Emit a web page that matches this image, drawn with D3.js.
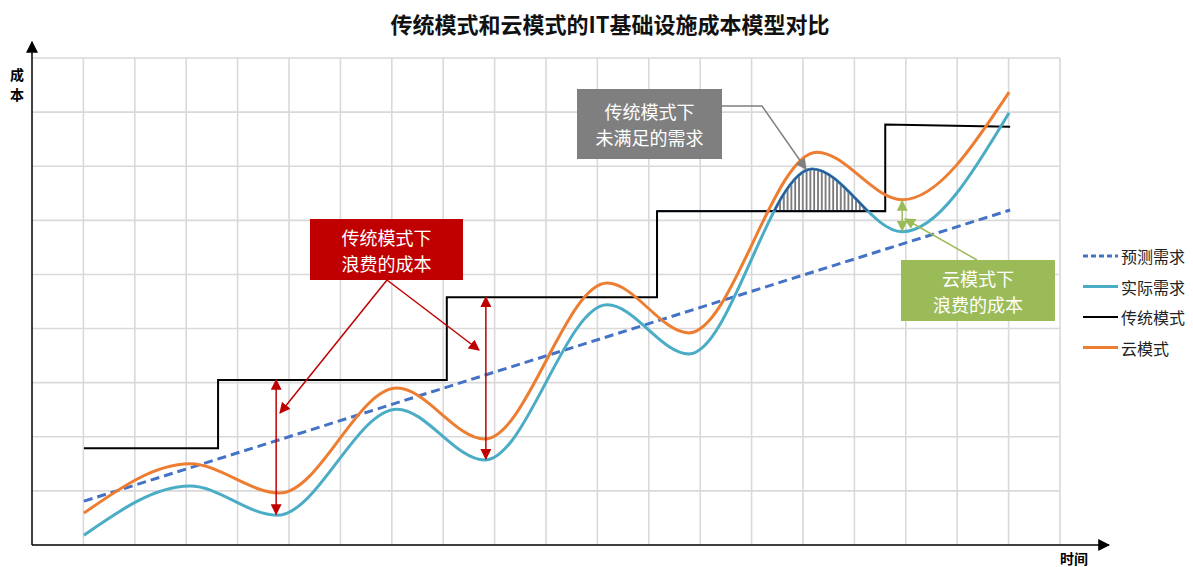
<!DOCTYPE html>
<html><head><meta charset="utf-8">
<script src="https://cdn.jsdelivr.net/npm/d3@7"></script>
<style>
body{margin:0;background:#fff;}
text{font-family:"Noto Sans CJK SC","Noto Sans",sans-serif;}
</style></head>
<body><svg id="c" width="1193" height="567"></svg>
<script>
// ---- data (x in time units, y in cost units) ----
const titleText = "传统模式和云模式的IT基础设施成本模型对比";
const seriesNames = ["预测需求", "实际需求", "传统模式", "云模式"];
const forecastX = [1.01, 19.03];
const forecastY = [0.81, 6.19];
const actualX = [1.01, 3.07, 4.77, 7.10, 8.81, 11.19, 12.78, 15.18, 16.93, 19.01];
const actualY = [0.18, 1.09, 0.55, 2.51, 1.57, 4.44, 3.53, 6.95, 5.79, 7.99];
const cloudX  = [1.01, 3.07, 4.82, 7.10, 8.81, 11.19, 12.78, 15.27, 16.93, 19.01];
const cloudY  = [0.59, 1.50, 0.96, 2.90, 1.96, 4.84, 3.92, 7.26, 6.38, 8.37];
const tradX = [1.01, 3.62, 3.62, 8.07, 8.07, 12.16, 12.16, 16.6, 16.6, 19.03];
const tradY = [1.79, 1.79, 3.05, 3.05, 4.58, 4.58, 6.17, 6.17, 7.77, 7.73];
const gridXTicks = d3.range(1, 21);
const gridYTicks = d3.range(1, 10);
const xLabel = "时间", yLabel = ["成", "本"];
const wasteTradArrows = [{x: 4.75, from: 3.05, to: 0.57}, {x: 8.83, from: 4.58, to: 1.59}];
const wasteCloudArrow = {x: 16.93, from: 6.36, to: 5.81};
const unmetLevel = 6.17, unmetRange = [12.16, 16.6];

// ---- setup ----
const svg = d3.select("#c");
const x = d3.scaleLinear().domain([0, 20]).range([32, 1060]);
const y = d3.scaleLinear().domain([0, 9]).range([545, 58]);
const C = {forecast:"#4472c4", actual:"#4bacc6", trad:"#000000", cloud:"#ed7d31",
           red:"#c00000", gray:"#7f7f7f", green:"#9bbb59", grid:"#d9d9d9"};

const defs = svg.append("defs");
function marker(id, color, size){
  defs.append("marker").attr("id", id).attr("viewBox","0 0 10 10")
    .attr("refX", 9).attr("refY", 5).attr("markerWidth", size).attr("markerHeight", size)
    .attr("orient","auto-start-reverse").attr("markerUnits","userSpaceOnUse")
    .append("path").attr("d","M0,0 L10,5 L0,10 z").attr("fill", color);
}
marker("mRed", C.red, 11);
marker("mGray", C.gray, 11);
marker("mGreen", C.green, 11);
marker("mAxis", "#000", 12);
const pat = defs.append("pattern").attr("id","hatch").attr("patternUnits","userSpaceOnUse")
  .attr("width", 3.8).attr("height", 10);
pat.append("rect").attr("width",3.8).attr("height",10).attr("fill","#fff");
pat.append("line").attr("x1",1).attr("x2",1).attr("y1",0).attr("y2",10)
  .attr("stroke","#666").attr("stroke-width",1.6);

// ---- grid ----
const g = svg.append("g");
g.selectAll(".vx").data(gridXTicks).join("line")
  .attr("x1", d=>x(d)).attr("x2", d=>x(d)).attr("y1", y(0)).attr("y2", y(9))
  .attr("stroke", C.grid).attr("stroke-width", 1.6);
g.selectAll(".hy").data(gridYTicks).join("line")
  .attr("x1", x(0)).attr("x2", x(20)).attr("y1", d=>y(d)).attr("y2", d=>y(d))
  .attr("stroke", C.grid).attr("stroke-width", 1.6);

// ---- axes ----
svg.append("line").attr("x1", x(0)).attr("x2", x(0)).attr("y1", y(0)).attr("y2", 42)
  .attr("stroke","#000").attr("stroke-width",1.5).attr("marker-end","url(#mAxis)");
svg.append("line").attr("x1", x(0)).attr("x2", 1109).attr("y1", y(0)).attr("y2", y(0))
  .attr("stroke","#000").attr("stroke-width",1.5).attr("marker-end","url(#mAxis)");
svg.append("text").attr("x",17).attr("y",74).attr("text-anchor","middle").attr("dominant-baseline","central")
  .attr("font-size",14).attr("font-weight","bold").text(yLabel[0]);
svg.append("text").attr("x",17).attr("y",94).attr("text-anchor","middle").attr("dominant-baseline","central")
  .attr("font-size",14).attr("font-weight","bold").text(yLabel[1]);
svg.append("text").attr("x",1074).attr("y",558).attr("text-anchor","middle").attr("dominant-baseline","central")
  .attr("font-size",14).attr("font-weight","bold").text(xLabel);

// ---- title ----
svg.append("text").attr("x",610).attr("y",23).attr("text-anchor","middle").attr("dominant-baseline","central")
  .attr("font-size",22).attr("font-weight","bold").attr("fill","#111").text(titleText);

// ---- series ----
const actual = actualX.map((v,i)=>[v, actualY[i]]);
const cloud = cloudX.map((v,i)=>[v, cloudY[i]]);
const trad = tradX.map((v,i)=>[v, tradY[i]]);
const forecast = forecastX.map((v,i)=>[v, forecastY[i]]);
const smooth = d3.line().x(d=>x(d[0])).y(d=>y(d[1])).curve(d3.curveMonotoneX);
const straight = d3.line().x(d=>x(d[0])).y(d=>y(d[1]));

// unmet demand hatched area
defs.append("clipPath").attr("id","clipU").append("rect")
  .attr("x", x(unmetRange[0])).attr("width", x(unmetRange[1]) - x(unmetRange[0]))
  .attr("y", 0).attr("height", y(unmetLevel));
const area = d3.area().x(d=>x(d[0])).y0(y(unmetLevel)).y1(d=>y(d[1])).curve(d3.curveMonotoneX);
svg.append("path").datum(actual).attr("d", area).attr("fill","url(#hatch)")
  .attr("stroke","#2f5597").attr("stroke-width",2.2).attr("clip-path","url(#clipU)");

svg.append("path").datum(trad).attr("d", straight).attr("fill","none")
  .attr("stroke", C.trad).attr("stroke-width", 2);
svg.append("path").datum(forecast).attr("d", straight).attr("fill","none")
  .attr("stroke", C.forecast).attr("stroke-width", 3).attr("stroke-dasharray","9,5");
svg.append("path").datum(actual).attr("d", smooth).attr("fill","none")
  .attr("stroke", C.actual).attr("stroke-width", 3);
svg.append("path").datum(actual).attr("d", smooth).attr("fill","none")
  .attr("stroke","#2f5597").attr("stroke-width",2).attr("clip-path","url(#clipU)");
svg.append("path").datum(cloud).attr("d", smooth).attr("fill","none")
  .attr("stroke", C.cloud).attr("stroke-width", 3);

// ---- annotations ----
wasteTradArrows.forEach(a=>{
  svg.append("line").attr("x1", x(a.x)).attr("x2", x(a.x)).attr("y1", y(a.from)).attr("y2", y(a.to))
    .attr("stroke", C.red).attr("stroke-width",1.5)
    .attr("marker-start","url(#mRed)").attr("marker-end","url(#mRed)");
});
function callout(bx, by, bw, bh, fill, lines, fs, lh){
  svg.append("rect").attr("x",bx).attr("y",by).attr("width",bw).attr("height",bh).attr("fill", fill);
  const top = by + bh/2 - lh*(lines.length-1)/2;
  lines.forEach((t,i)=>{
    svg.append("text").attr("x",bx+bw/2).attr("y",top + i*lh).attr("text-anchor","middle")
      .attr("dominant-baseline","central").attr("font-size",fs).attr("fill","#fff").text(t);
  });
}
callout(310, 219, 153, 61, C.red, ["传统模式下", "浪费的成本"], 18, 26);
svg.append("line").attr("x1",387).attr("y1",280).attr("x2",280).attr("y2",413)
  .attr("stroke",C.red).attr("stroke-width",1.5).attr("marker-end","url(#mRed)");
svg.append("line").attr("x1",387).attr("y1",280).attr("x2",479).attr("y2",350)
  .attr("stroke",C.red).attr("stroke-width",1.5).attr("marker-end","url(#mRed)");

callout(577, 89, 145, 70, C.gray, ["传统模式下", "未满足的需求"], 18, 26);
svg.append("path").attr("d","M722,106 L762,106 L806,169").attr("fill","none")
  .attr("stroke",C.gray).attr("stroke-width",1.5).attr("marker-end","url(#mGray)");

svg.append("line").attr("x1", x(wasteCloudArrow.x)).attr("x2", x(wasteCloudArrow.x))
  .attr("y1", y(wasteCloudArrow.from)).attr("y2", y(wasteCloudArrow.to))
  .attr("stroke", C.green).attr("stroke-width",1.5)
  .attr("marker-start","url(#mGreen)").attr("marker-end","url(#mGreen)");
svg.append("line").attr("x1",977).attr("y1",260).attr("x2",905).attr("y2",219)
  .attr("stroke",C.green).attr("stroke-width",1.5).attr("marker-end","url(#mGreen)");
callout(901, 260, 154, 61, C.green, ["云模式下", "浪费的成本"], 18, 26);

// ---- legend ----
const leg = [{n:seriesNames[0], c:C.forecast, dash:"5,3"}, {n:seriesNames[1], c:C.actual},
             {n:seriesNames[2], c:C.trad}, {n:seriesNames[3], c:C.cloud}];
const lg = svg.append("g").selectAll("g").data(leg).join("g")
  .attr("transform",(d,i)=>`translate(0,${256 + i*30.5})`);
lg.append("line").attr("x1",1083).attr("x2",1118).attr("y1",0).attr("y2",0)
  .attr("stroke",d=>d.c).attr("stroke-width",d=>d.c==="#000000"?2:3).attr("stroke-dasharray",d=>d.dash||null);
lg.append("text").attr("x",1121).attr("y",0).attr("dominant-baseline","central")
  .attr("font-size",16).attr("fill","#222").text(d=>d.n);
</script></body></html>
